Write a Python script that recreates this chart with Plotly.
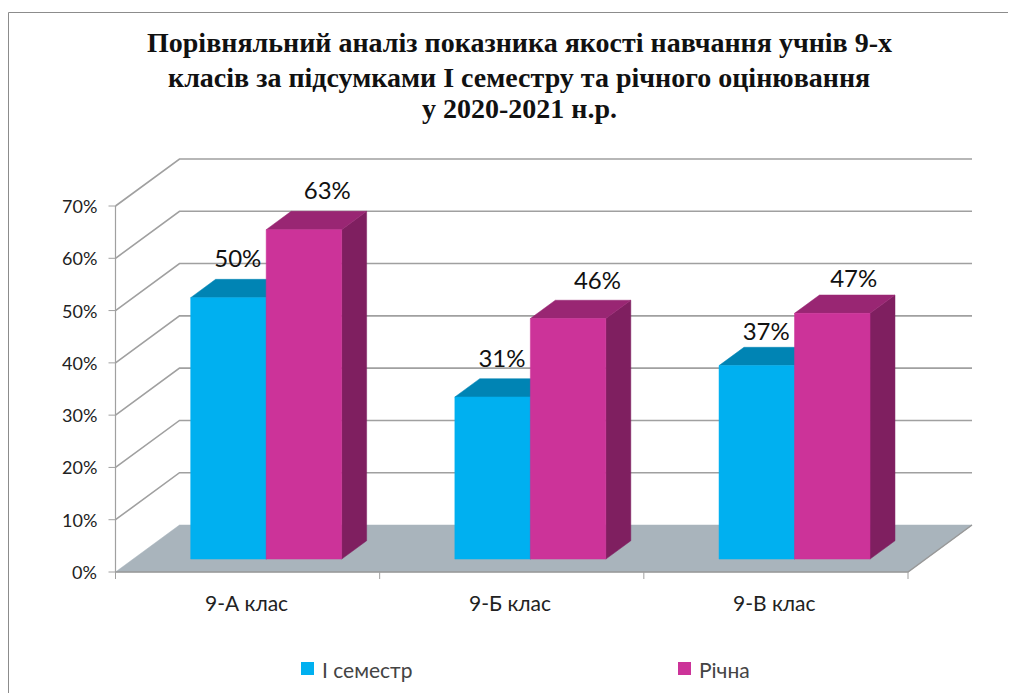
import plotly.graph_objects as go

categories = ["9-А клас", "9-Б клас", "9-В клас"]
series_names = ["І семестр", "Річна"]
semester = [50, 31, 37]
annual = [63, 46, 47]
y_ticks = [0, 10, 20, 30, 40, 50, 60, 70]
title_lines = ["Порівняльний аналіз показника якості навчання учнів 9-х",
               "класів за підсумками І семестру та річного оцінювання",
               "у 2020-2021 н.р."]

PAGE = 8                   # the browser's body margin
W, H = 1016 - PAGE, 693 - PAGE
X0, X1 = 115.5 - PAGE, 908.0 - PAGE     # front axis px
Y0, Y70 = 572.0 - PAGE, 206.0 - PAGE    # value axis px
DX, DY = 64.0, 47.0        # depth px
PX_PER_CAT = (X1 - X0) / 3
PX_PER_PCT = (Y0 - Y70) / 70
ux = 1 / PX_PER_CAT
uy = 1 / PX_PER_PCT

# Oblique projection: depth d in 0..1
def px(c, d): return c + d * DX * ux
def py(v, d): return v + d * DY * uy
def pgx(x): return (x - PAGE) / W
def pgy(y): return 1 - (y - PAGE) / H

FONT = "Lato, 'Open Sans', sans-serif"
GRID = "#a0a0a0"
fig = go.Figure()

def poly(xs, ys, color, line=None, width=0):
    fig.add_trace(go.Scatter(x=list(xs) + [xs[0]], y=list(ys) + [ys[0]], mode="lines", fill="toself",
                             fillcolor=color, line=dict(color=line or color, width=width if line else 0.5),
                             hoverinfo="skip", showlegend=False))

def seg(xs, ys, color=GRID, width=1.6):
    fig.add_trace(go.Scatter(x=xs, y=ys, mode="lines", line=dict(color=color, width=width),
                             hoverinfo="skip", showlegend=False))

# gridlines on side + back wall
for t in y_ticks[1:]:
    seg([px(0, 0), px(0, 1), px(3, 1)], [py(t, 0), py(t, 1), py(t, 1)])

# floor
poly([px(0, 0), px(3, 0), px(3, 1), px(0, 1)], [py(0, 0), py(0, 0), py(0, 1), py(0, 1)], "#a9b4bc")
seg([px(0, 0), px(3, 0), px(3, 1)], [py(0, 0), py(0, 0), py(0, 1)], "#989898", 1.5)

# axes
seg([0, 0], [0, 70], GRID, 1.2)
for t in y_ticks:
    seg([-7 * ux, 0], [t, t], GRID, 1)
for c in range(4):
    seg([c, c], [0, -7 * uy], GRID, 1)

# bars
D0, D1 = 0.275, 0.665
BAR = 75.5 * ux
NUDGE = 1 * ux
def bar(c, v, side, front, top, right):
    l = c + 0.5 + NUDGE - BAR * (1 if side == 0 else 0)
    r = l + BAR
    # right face, top face, front
    poly([px(r, D0), px(r, D1), px(r, D1), px(r, D0)],
         [py(0, D0), py(0, D1), py(v, D1), py(v, D0)], right)
    poly([px(l, D0), px(r, D0), px(r, D1), px(l, D1)],
         [py(v, D0), py(v, D0), py(v, D1), py(v, D1)], top)
    poly([px(l, D0), px(r, D0), px(r, D0), px(l, D0)],
         [py(0, D0), py(0, D0), py(v, D0), py(v, D0)], front)
    return (l + r) / 2

# label placement relative to each bar (the source placed them unevenly)
nudge_a = [27, 27, 27]
nudge_b = [41, 47, 39]
lift_a = [9.5, 9.3, 8.6]
lift_b = [9.5, 9.2, 8.7]
label_x, label_y, label_t = [], [], []
for i, cat in enumerate(categories):
    a = bar(i, semester[i], 0, "#00b0f0", "#0084b4", "#006a90")
    b = bar(i, annual[i], 1, "#cc3399", "#992673", "#7f1f60")
    label_x += [a + nudge_a[i] * ux, b + nudge_b[i] * ux]
    label_y += [semester[i] + lift_a[i], annual[i] + lift_b[i]]
    label_t += [f"{semester[i]}%", f"{annual[i]}%"]

fig.add_trace(go.Scatter(x=label_x, y=label_y, text=label_t, mode="text",
                         textfont=dict(family=FONT, size=24, color="#111111"),
                         hoverinfo="skip", showlegend=False))

# Axis ranges cover whole page
xr = [(0 - X0) * ux, (W - X0) * ux]
yr = [(Y0 - H) * uy, Y0 * uy]
fig.update_layout(
    width=W, height=H, margin=dict(l=0, r=0, t=0, b=0), autosize=False,
    paper_bgcolor="white", plot_bgcolor="white",
    xaxis=dict(range=xr, visible=False, fixedrange=True),
    yaxis=dict(range=yr, visible=False, fixedrange=True),
    showlegend=False,
    font=dict(family=FONT),
)

ann = []
for t in y_ticks:
    ann.append(dict(x=-17 * ux, y=t, text=f"{t}%", xanchor="right", yanchor="middle", showarrow=False,
                    font=dict(size=18, color="#222222", family=FONT)))
for i, cat in enumerate(categories):
    ann.append(dict(x=i + 0.5 - 1.5 * ux, y=-30 * uy, text=cat, xanchor="center", yanchor="middle", showarrow=False,
                    font=dict(size=21, color="#222222", family=FONT)))
for nm, xp in zip(series_names, [320, 697]):
    ann.append(dict(xref="paper", yref="paper", x=pgx(xp), y=pgy(669), text=nm, xanchor="left", yanchor="middle",
                    showarrow=False, font=dict(size=21, color="#444444", family=FONT)))
for line, yp in zip(title_lines, [42, 78, 108]):
    ann.append(dict(xref="paper", yref="paper", x=pgx(519), y=pgy(yp), text=f"<b>{line}</b>", xanchor="center",
                    yanchor="middle", showarrow=False,
                    font=dict(size=28, color="#111111", family="'Liberation Serif', serif")))
fig.update_layout(annotations=ann)

shapes = [
    dict(type="rect", xref="paper", yref="paper", x0=pgx(8.5), x1=pgx(1030), y0=-0.02, y1=pgy(12.5),
         line=dict(color="#8c8c8c", width=1)),
    dict(type="rect", xref="paper", yref="paper", x0=pgx(301), x1=pgx(314), y0=pgy(675), y1=pgy(662),
         fillcolor="#00b0f0", line=dict(width=0)),
    dict(type="rect", xref="paper", yref="paper", x0=pgx(678), x1=pgx(691), y0=pgy(675), y1=pgy(662),
         fillcolor="#cc3399", line=dict(width=0)),
]
fig.update_layout(shapes=shapes)

fig.write_html("out.html")
